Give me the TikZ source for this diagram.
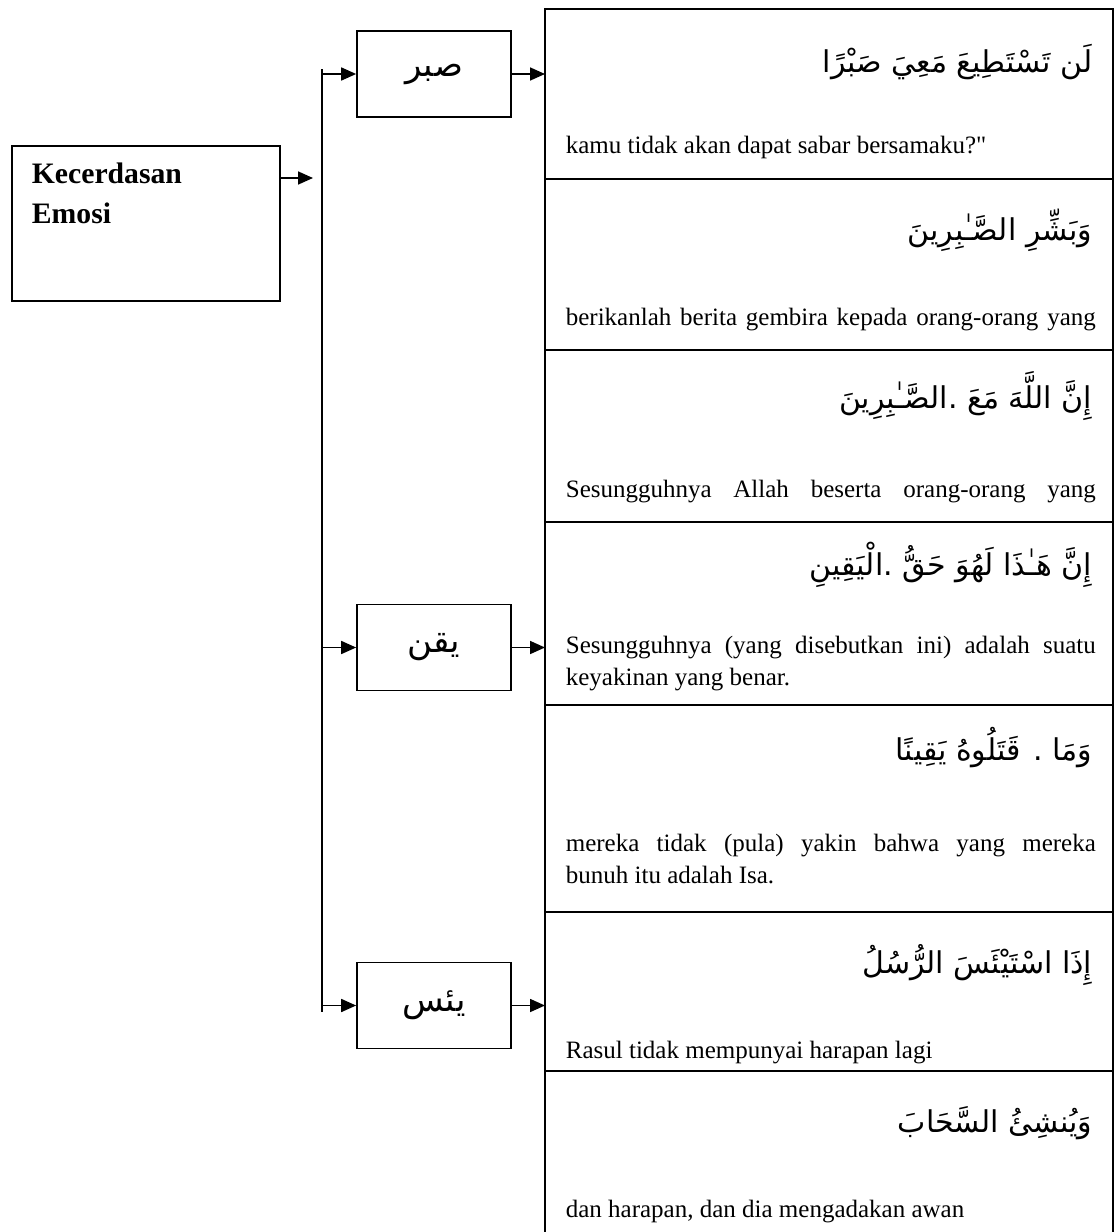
\documentclass[tikz,border=0pt]{standalone}
\usepackage{fontspec}
\setmainfont{Liberation Serif}[Ligatures=TeXOff]
\newfontfamily\arabicfont[Script=Arabic]{DejaVu Sans}
\TeXXeTstate=1
\usetikzlibrary{arrows.meta}
\newcommand\penuh[1]{\makebox[265pt][s]{#1}}
\newcommand\arab[1]{\arabicfont\beginR #1\endR}

\begin{document}
\begin{tikzpicture}[x=0.5pt, y=-0.5pt, line width=0.85pt,
    >={Triangle[length=7.5pt,width=6.5pt]},
    kotak/.style={draw, minimum width=77pt, minimum height=43pt, inner sep=0pt,
      font=\arabicfont\fontsize{17}{19}\selectfont},
    ayat/.style={anchor=base east, inner sep=0pt, font=\arabicfont\fontsize{15}{18}\selectfont},
    arti/.style={anchor=base west, inner sep=0pt, align=left, font=\fontsize{12.5}{16}\selectfont}]
  \useasboundingbox (0,0) rectangle (1118,1232);

  \node (main) [draw, minimum width=134pt, minimum height=77.5pt, anchor=north west] at (11,145) {};
  \node (judul) [anchor=base west, align=left, inner sep=0pt,
    font=\bfseries\fontsize{14.85}{20}\selectfont] at (31,223) {Kecerdasan\\Emosi};

  \node (sabar) [kotak] at (434,74) {\arab{صبر}};
  \node (yaqin) [kotak] at (434,647.5) {\arab{يقن}};
  \node (yais) [kotak] at (434,1005.5) {\arab{يئس}};

  \coordinate (trunkA) at (322,69);
  \coordinate (trunkB) at (322,1012);
  \coordinate (split) at (313,178);
  \coordinate (colA) at (545,9);

  \draw[->] (main.east |- split) -- (split);
  \draw (trunkA) -- (trunkB);
  \foreach \b in {sabar,yaqin,yais}
    \draw[->] (trunkA |- \b.west) -- (\b.west);
  \foreach \b in {sabar,yaqin,yais}
    \draw[->] (\b.east) -- (\b.east -| colA);

  % kolom ayat dan arti
  \draw (545,1232) -- (colA) -- (1113,9) -- (1113,1232);
  \foreach \y in {179,350,522,705,912,1071}
    \draw (545,\y) -- (1113,\y);

  \node (ayat1) [ayat] at (1093,72) {\arab{لَن تَسْتَطِيعَ مَعِيَ صَبْرًا}};
  \node (arti1) [arti] at (565,153) {kamu tidak akan dapat sabar bersamaku?"};
  \node (ayat2) [ayat] at (1093,240) {\arab{وَبَشِّرِ الصَّـٰبِرِينَ}};
  \node (arti2) [arti] at (565,325) {\penuh{berikanlah berita gembira kepada orang-orang yang}};
  \node (ayat3) [ayat] at (1093,408) {\arab{إِنَّ اللَّهَ مَعَ .الصَّـٰبِرِينَ}};
  \node (arti3) [arti] at (565,497) {\penuh{Sesungguhnya Allah beserta orang-orang yang}};
  \node (ayat4) [ayat] at (1093,575) {\arab{إِنَّ هَـٰذَا لَهُوَ حَقُّ .الْيَقِينِ}};
  \node (arti4) [arti] at (565,685) {\penuh{Sesungguhnya (yang disebutkan ini) adalah suatu}\\keyakinan yang benar.};
  \node (ayat5) [ayat] at (1093,760) {\arab{وَمَا . قَتَلُوهُ يَقِينًا}};
  \node (arti5) [arti] at (565,883) {\penuh{mereka tidak (pula) yakin bahwa yang mereka}\\bunuh itu adalah Isa.};
  \node (ayat6) [ayat] at (1093,973) {\arab{إِذَا اسْتَيْئَسَ الرُّسُلُ}};
  \node (arti6) [arti] at (565,1058) {Rasul tidak mempunyai harapan lagi};
  \node (ayat7) [ayat] at (1093,1132) {\arab{وَيُنشِئُ السَّحَابَ}};
  \node (arti7) [arti] at (565,1217) {dan harapan, dan dia mengadakan awan};
\end{tikzpicture}
\end{document}
